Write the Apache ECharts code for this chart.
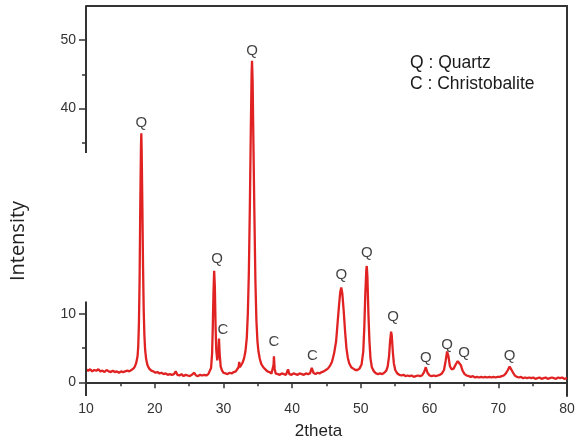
<!DOCTYPE html>
<html><head><meta charset="utf-8">
<script src="https://cdn.jsdelivr.net/npm/echarts@6/dist/echarts.min.js"></script>
<style>html,body{margin:0;padding:0;background:#fff}#c{width:575px;height:444px}</style>
</head><body><div id="c"></div>
<script>
// XRD scan: [2theta, intensity]
const xrdScan = [[10.0,1.9],[10.3,1.7],[10.6,1.9],[10.9,1.6],[11.2,1.8],[11.5,1.7],[11.8,1.9],[12.1,1.6],[12.4,1.7],[12.7,1.5],[13.0,1.8],[13.3,1.6],[13.6,1.5],[13.9,1.7],[14.2,1.5],[14.5,1.6],[14.8,1.4],[15.1,1.6],[15.4,1.5],[15.7,1.6],[16.0,1.7],[16.3,1.6],[16.6,1.8],[16.9,2.0],[17.1,2.3],[17.3,2.8],[17.5,3.8],[17.6,5.2],[17.7,8.5],[17.8,15],[17.9,26],[18.0,34.5],[18.05,36.4],[18.1,34],[18.2,26],[18.3,17],[18.4,10.5],[18.5,6.8],[18.6,4.8],[18.75,3.4],[18.95,2.5],[19.2,2.0],[19.5,1.7],[19.8,1.6],[20.1,1.4],[20.4,1.5],[20.7,1.3],[21.0,1.4],[21.3,1.2],[21.6,1.3],[21.9,1.1],[22.2,1.2],[22.5,1.1],[22.8,1.2],[23.05,1.6],[23.3,1.1],[23.6,1.0],[23.9,1.2],[24.2,0.9],[24.5,1.1],[24.8,1.0],[25.1,0.9],[25.4,1.1],[25.75,1.4],[26.0,1.0],[26.3,0.9],[26.6,1.1],[26.9,1.0],[27.2,1.1],[27.5,1.0],[27.8,1.2],[28.0,1.4],[28.2,2.1],[28.35,4.2],[28.45,8],[28.55,13],[28.65,16.3],[28.75,14],[28.85,8.5],[28.95,4.8],[29.1,3.2],[29.25,4.2],[29.35,6.4],[29.45,4.2],[29.6,2.3],[29.8,1.7],[30.0,1.4],[30.3,1.3],[30.6,1.2],[30.9,1.4],[31.2,1.3],[31.5,1.5],[31.8,1.6],[32.0,1.8],[32.2,2.2],[32.3,3.0],[32.4,2.2],[32.6,2.4],[32.8,2.9],[33.0,3.5],[33.2,4.5],[33.4,6.5],[33.55,10],[33.7,16],[33.85,26],[34.0,38],[34.1,45],[34.16,47],[34.25,44],[34.35,36],[34.5,25],[34.65,15],[34.8,9],[34.95,6],[35.1,4.5],[35.3,3.4],[35.5,2.7],[35.8,2.2],[36.1,1.9],[36.4,1.6],[36.7,1.5],[37.0,1.3],[37.2,1.5],[37.3,2.6],[37.35,3.8],[37.45,2.0],[37.6,1.3],[37.9,1.2],[38.2,1.1],[38.5,1.3],[38.8,1.2],[39.1,1.1],[39.4,1.9],[39.6,1.2],[39.9,1.1],[40.2,1.3],[40.5,1.2],[40.8,1.1],[41.1,1.3],[41.4,1.2],[41.7,1.1],[42.0,1.3],[42.3,1.2],[42.6,1.3],[42.85,2.1],[42.95,2.3],[43.1,1.4],[43.4,1.2],[43.7,1.4],[44.0,1.3],[44.3,1.5],[44.6,1.6],[44.9,1.8],[45.2,2.0],[45.5,2.4],[45.8,3.0],[46.1,4.2],[46.4,6.0],[46.6,8.5],[46.8,11],[47.0,13.2],[47.15,13.85],[47.3,13],[47.5,10.5],[47.7,7.5],[47.9,5],[48.1,3.6],[48.3,2.8],[48.6,2.2],[48.9,2.0],[49.2,1.8],[49.5,1.8],[49.8,2.0],[50.1,2.6],[50.35,4.5],[50.5,8],[50.65,13],[50.8,16.5],[50.86,17.0],[50.95,15.5],[51.1,10],[51.25,6],[51.4,3.5],[51.6,2.2],[51.9,1.6],[52.2,1.3],[52.5,1.2],[52.8,1.3],[53.1,1.2],[53.4,1.4],[53.7,1.7],[53.9,2.3],[54.1,3.8],[54.25,6],[54.4,7.4],[54.5,6.8],[54.65,4.5],[54.8,2.8],[55.0,1.8],[55.3,1.3],[55.6,1.1],[55.9,1.0],[56.2,1.1],[56.5,0.9],[56.8,1.0],[57.1,0.9],[57.4,1.0],[57.7,0.8],[58.0,0.9],[58.3,1.0],[58.6,0.9],[58.9,1.0],[59.2,1.5],[59.45,2.2],[59.7,1.4],[60.0,1.0],[60.3,0.9],[60.6,1.0],[60.9,0.9],[61.2,1.0],[61.5,1.1],[61.8,1.3],[62.1,1.8],[62.35,3.2],[62.55,4.5],[62.75,3.8],[62.95,2.4],[63.2,1.9],[63.5,2.0],[63.8,2.6],[64.1,3.1],[64.3,3.2],[64.55,2.5],[64.8,1.7],[65.1,1.2],[65.4,1.0],[65.7,0.9],[66.0,0.8],[66.3,0.9],[66.6,0.7],[66.9,0.8],[67.2,0.7],[67.5,0.8],[67.8,0.7],[68.1,0.8],[68.4,0.7],[68.7,0.8],[69.0,0.7],[69.3,0.8],[69.6,0.7],[69.9,0.8],[70.2,0.8],[70.5,0.9],[70.8,1.0],[71.1,1.3],[71.4,1.8],[71.65,2.3],[71.85,2.2],[72.1,1.5],[72.4,1.0],[72.7,0.8],[73.0,0.7],[73.3,0.8],[73.6,0.6],[73.9,0.7],[74.2,0.6],[74.5,0.7],[74.8,0.6],[75.1,0.7],[75.4,0.5],[75.7,0.6],[76.0,0.7],[76.3,0.5],[76.6,0.6],[76.9,0.7],[77.2,0.5],[77.5,0.6],[77.8,0.7],[78.1,0.6],[78.4,0.5],[78.7,0.7],[79.0,0.6],[79.3,0.7],[79.6,0.5],[80.0,0.6]];

// Peak annotations
const peakAngles  = [18.05, 28.65, 29.35, 34.16, 37.35, 42.95, 47.15, 50.86, 54.4, 59.45, 62.55, 64.3, 71.65];
const peakHeights = [36.4, 16.3, 6.4, 47, 3.8, 2.3, 13.85, 17.0, 7.4, 2.2, 4.5, 3.2, 2.3];
const peakPhases  = ['Q','Q','C','Q','C','C','Q','Q','Q','Q','Q','Q','Q'];

// Axes
const xRange = [10, 80];
const xTickStep = 10;
const yRange = [-2, 55];
const yTickLabels = [0, 10, 40, 50];
const yMinorTicks = [5, 35, 45];
const yAxisSegments = [[-2, 11.8], [33.5, 55]];   // broken y axis
const legendLines = ['Q : Quartz', 'C : Christobalite'];

// styling only: [dx, distance] per annotation
const labelNudges = [[0,3],[3,4],[4,1],[0,2],[0,7],[0,3],[0,5],[0,6],[2,7],[0,2],[0,-1],[5,0],[0,3]];

const AX = '#333';
const FONT = '"Liberation Sans", Arial, sans-serif';

const chart = echarts.init(document.getElementById('c'), null, {renderer: 'canvas'});
chart.setOption({
  animation: false,
  backgroundColor: '#fff',
  grid: {left: 86, right: 8, top: 6, bottom: 48, containLabel: false, outerBoundsMode: 'none'},
  xAxis: [{
    type: 'value', min: xRange[0], max: xRange[1], interval: xTickStep, position: 'bottom',
    name: '2theta', nameLocation: 'middle', nameGap: 27,
    nameTextStyle: {fontSize: 17, color: '#222', fontFamily: FONT, padding: [0, 16, 0, 0]},
    axisLine: {show: true, lineStyle: {color: AX, width: 2}},
    axisTick: {show: true, inside: false, length: 6, lineStyle: {color: AX, width: 1.5}},
    minorTick: {show: true, splitNumber: 2, length: 4, lineStyle: {color: AX, width: 1.5}},
    axisLabel: {fontSize: 14, color: '#333', fontFamily: FONT, margin: 6},
    splitLine: {show: false}
  }, {
    type: 'value', min: xRange[0], max: xRange[1], position: 'top',
    axisLine: {show: true, onZero: false, lineStyle: {color: AX, width: 2}},
    axisTick: {show: false}, axisLabel: {show: false}, splitLine: {show: false}
  }],
  yAxis: [{
    type: 'value', min: yRange[0], max: yRange[1], position: 'left',
    name: 'Intensity', nameLocation: 'middle', nameGap: 58, nameRotate: 90,
    nameTextStyle: {fontSize: 20, color: '#222', fontFamily: '"Open Sans", sans-serif', padding: [0, 80, 0, 0]},
    axisLine: {show: false},
    axisTick: {show: true, inside: false, length: 7, customValues: yTickLabels, lineStyle: {color: AX, width: 1.5}},
    axisLabel: {show: true, customValues: yTickLabels, fontSize: 14, color: '#333', fontFamily: FONT, margin: 10},
    splitLine: {show: false}
  }, {
    type: 'value', min: yRange[0], max: yRange[1], position: 'left',
    axisLine: {show: false},
    axisTick: {show: true, inside: false, length: 4, customValues: yMinorTicks, lineStyle: {color: AX, width: 1.5}},
    axisLabel: {show: false}, splitLine: {show: false}
  }, {
    type: 'value', min: yRange[0], max: yRange[1], position: 'right',
    axisLine: {show: true, onZero: false, lineStyle: {color: AX, width: 2}},
    axisTick: {show: false}, axisLabel: {show: false}, splitLine: {show: false}
  }],
  graphic: [{
    type: 'text', left: 410, top: 53,
    style: {text: legendLines.join('\n'), fontSize: 17.5, fontFamily: FONT, fill: '#1a1a1a', lineHeight: 21}
  }],
  series: [{
    type: 'line', xAxisIndex: 0, yAxisIndex: 0,
    data: xrdScan, showSymbol: false, symbol: 'none', smooth: false,
    lineStyle: {color: '#e02222', width: 2.3},
    markLine: {
      silent: true, symbol: ['none', 'none'], animation: false,
      label: {show: false},
      lineStyle: {color: AX, width: 2, type: 'solid'},
      emphasis: {disabled: true},
      data: yAxisSegments.map(s => [{coord: [xRange[0], s[0]]}, {coord: [xRange[0], s[1]]}])
    },
    z: 2
  }, {
    type: 'scatter', xAxisIndex: 0, yAxisIndex: 0, symbolSize: 0, silent: true,
    data: peakAngles.map((a, i) => ({
      value: [a, peakHeights[i], peakPhases[i]],
      label: {offset: [labelNudges[i][0], 0], distance: labelNudges[i][1]}
    })),
    label: {show: true, position: 'top', formatter: p => p.value[2], fontSize: 15, color: '#111', fontFamily: FONT},
    z: 3
  }]
});
</script>
</body></html>
